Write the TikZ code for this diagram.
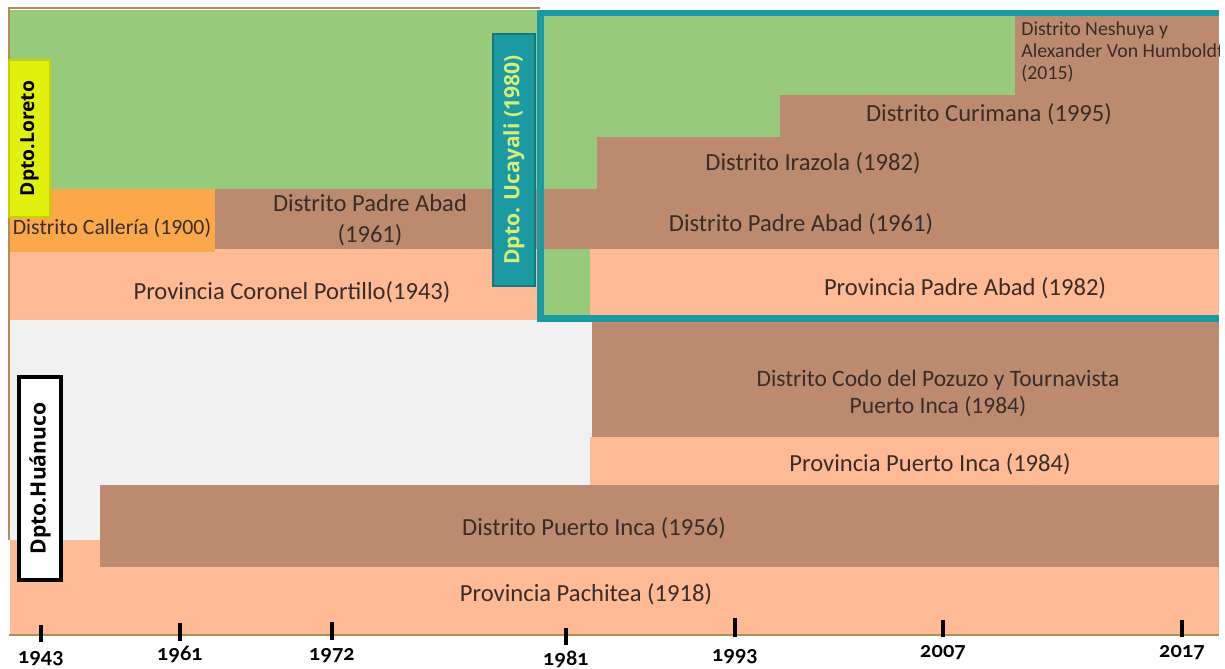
\documentclass[tikz,border=0pt]{standalone}
\usepackage{fontspec}
\setmainfont{Carlito}
\newfontfamily\deptofont{Open Sans}
\newfontfamily\aniofont[RawFeature=+onum]{Lato}
\definecolor{verde}{HTML}{98CA7B}
\definecolor{naranja}{HTML}{FBA84B}
\definecolor{marron}{HTML}{BC8B6F}
\definecolor{melocoton}{HTML}{FDBA95}
\definecolor{gris}{HTML}{F1F1F1}
\definecolor{turquesa}{HTML}{1B9AA1}
\definecolor{turquesaosc}{HTML}{157880}
\definecolor{amarillo}{HTML}{E2F00E}
\definecolor{amarillosc}{HTML}{C4D300}
\definecolor{lima}{HTML}{D6EE7C}
\definecolor{texto}{HTML}{3A2C29}
\definecolor{marco}{HTML}{B58B55}
\begin{document}
\begin{tikzpicture}[x=0.02cm, y=-0.02cm]
			\tikzset{etiqueta/.style={text=texto, font=\fontsize{14}{17.5}\selectfont, align=center, inner sep=0pt}, depto/.style={rotate=90, draw, line width=1.3pt, inner sep=0pt, font=\deptofont\bfseries\fontsize{12}{14}\selectfont}, marca/.style={line width=2.6pt, black}, anio/.style={font=\aniofont\bfseries\fontsize{12}{13}\selectfont}, borde/.style={line width=1.2pt, marco}};

			\useasboundingbox (0,0) rectangle (1225,669);

			\fill[verde]     (  10,  10) rectangle ( 540, 189);
			\fill[melocoton] (  10, 249) rectangle ( 540, 320);
			\fill[naranja]   (  10, 189) rectangle ( 215, 252);
			\fill[marron]    ( 215, 189) rectangle ( 540, 249);
			\fill[gris]      (  10, 320) rectangle ( 592, 540);

			\fill[verde]     ( 540,  12) rectangle (1015, 189);
			\fill[verde]     ( 540, 249) rectangle ( 590, 318);
			\fill[marron]    (1015,  12) rectangle (1219,  95);
			\fill[marron]    ( 780,  95) rectangle (1219, 137);
			\fill[marron]    ( 597, 137) rectangle (1219, 189);
			\fill[marron]    ( 540, 189) rectangle (1219, 249);
			\fill[melocoton] ( 590, 249) rectangle (1219, 318);

			\fill[marron]    ( 592, 320) rectangle (1219, 437);
			\fill[melocoton] ( 590, 437) rectangle (1219, 485);
			\fill[melocoton] (  10, 540) rectangle (1219, 635);
			\fill[marron]    ( 100, 485) rectangle (1219, 567);

			\draw[borde] (540,8) -- (9,8) -- (9,540);
			\draw[borde] (9,635) -- (1219,635);
			\draw[turquesa, line width=3.7pt] (1219,13) -- (540.5,13) -- (540.5,318.5) -- (1219,318.5);

			\node[etiqueta, font=\fontsize{12.4}{14}\selectfont] (calleria) at ( 112, 228) {Distrito Callería (1900)};
			\node[etiqueta] (padreabadA)     at ( 370, 220) {Distrito Padre Abad\\(1961)};
			\node[etiqueta] (coronel)        at ( 292, 292) {Provincia Coronel Portillo(1943)};
			\begin{scope}
				\clip (1015,12) rectangle (1219,95);
				\node[etiqueta, anchor=north west, align=left, font=\fontsize{11.3}{12.5}\selectfont] (neshuya) at (1021, 21) {Distrito Neshuya y\\Alexander Von Humboldt\\(2015)};
			\end{scope}
			\node[etiqueta] (curimana)       at ( 989, 114) {Distrito Curimana (1995)};
			\node[etiqueta] (irazola)        at ( 813, 163) {Distrito Irazola (1982)};
			\node[etiqueta] (padreabadB)     at ( 801, 224) {Distrito Padre Abad (1961)};
			\node[etiqueta] (provpadreabad)  at ( 965, 288) {Provincia Padre Abad (1982)};
			\node[etiqueta, font=\fontsize{13.4}{15.4}\selectfont] (codo) at ( 938, 393) {Distrito Codo del Pozuzo y Tournavista\\Puerto Inca (1984)};
			\node[etiqueta] (provpuertoinca) at ( 930, 464) {Provincia Puerto Inca (1984)};
			\node[etiqueta] (distpuertoinca) at ( 594, 528) {Distrito Puerto Inca (1956)};
			\node[etiqueta] (pachitea)       at ( 586, 594) {Provincia Pachitea (1918)};

			\node[depto, fill=amarillo, draw=amarillosc, font=\deptofont\bfseries\fontsize{11}{13}\selectfont, minimum width=3.14cm, minimum height=0.82cm] (loreto) at (29.5, 138.5) {Dpto.Loreto};
			\node[depto, fill=turquesa, draw=turquesaosc, text=lima, minimum width=5.04cm, minimum height=0.84cm] (ucayali) at (514, 160) {Dpto. Ucayali (1980)};
			\node[depto, fill=white, draw=black, line width=1.8pt, minimum width=4.06cm, minimum height=0.84cm] (huanuco) at (40, 478.5) {Dpto.Huánuco};

			\foreach \anio/\x/\ya/\yb/\yl in {1943/41/625/642/659, 1961/180/623/641/654, 1972/332/622/640/656, 1981/566/628/645/659, 1993/735/618/637/657, 2007/943/620/637/653, 2017/1182/620/637/653}
				{\draw[marca] (\x,\ya) -- (\x,\yb);
				 \node[anio] (a\anio) at (\x,\yl) {\anio};}

		\end{tikzpicture}
\end{document}
